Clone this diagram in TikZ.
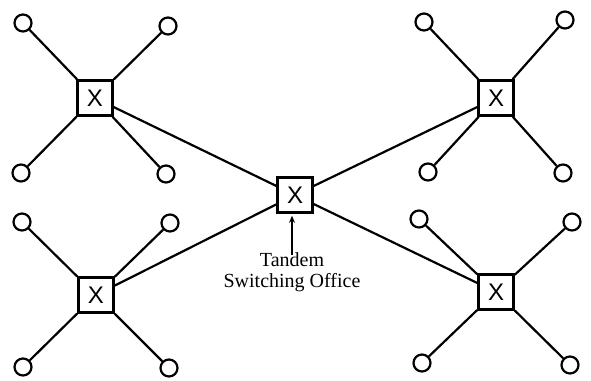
\documentclass[tikz,border=0pt]{standalone}
\usepackage{fontspec}
\setmainfont{Liberation Serif}
\newfontfamily\xfont{Liberation Sans}
\usetikzlibrary{arrows.meta}
\begin{document}
\begin{tikzpicture}[x=1pt,y=-1pt,
  sw/.style={draw,line width=2.6pt,minimum size=35pt,inner sep=0pt,font=\xfont\fontsize{24}{24}\selectfont},
  term/.style={draw,circle,line width=2.2pt,minimum size=17pt,inner sep=0pt},
  link/.style={line width=2.2pt}]
\useasboundingbox (0,0) rectangle (591,380);
% switches
\node[sw] (c) at (295,195) {X};
\node[sw] (tl) at (95,98) {X};
\node[sw] (tr) at (496,98) {X};
\node[sw] (bl) at (96,295) {X};
\node[sw] (br) at (496,292) {X};
% terminals
\node[term] (tl1) at (23,23) {};
\node[term] (tl2) at (168,26) {};
\node[term] (tl3) at (21,173) {};
\node[term] (tl4) at (166,174) {};
\node[term] (tr1) at (424,22) {};
\node[term] (tr2) at (565,20) {};
\node[term] (tr3) at (428,172) {};
\node[term] (tr4) at (563,173) {};
\node[term] (bl1) at (22,222) {};
\node[term] (bl2) at (170,223) {};
\node[term] (bl3) at (23,367) {};
\node[term] (bl4) at (169,368) {};
\node[term] (br1) at (419,219) {};
\node[term] (br2) at (572,222) {};
\node[term] (br3) at (422,363) {};
\node[term] (br4) at (570,365) {};
% spokes
\foreach \s in {tl,tr,bl,br}{
  \foreach \i in {1,2,3,4}{
    \draw[link] (\s) -- (\s\i);
  }
  \draw[link] (\s) -- (c);
}
% label
\node[align=center,font=\fontsize{20}{21}\selectfont,inner sep=0pt] (lbl) at (292,272) {Tandem\\Switching Office};
\draw[line width=1.6pt,-{Stealth[length=7pt,width=6pt]}] ([yshift=-3pt]lbl.north) -- ([xshift=-3pt,yshift=-2pt]c.south);
\end{tikzpicture}
\end{document}
